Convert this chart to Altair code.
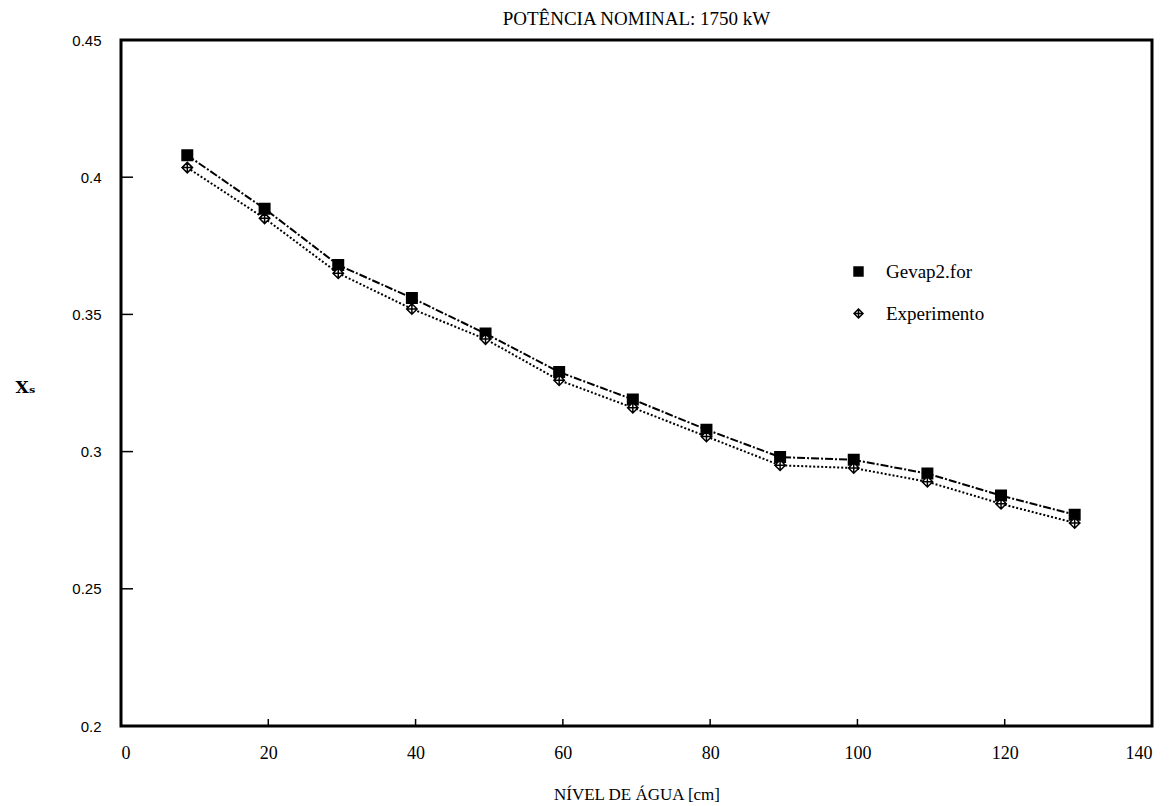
import altair as alt
import pandas as pd

# Data
nivel = [9, 19.5, 29.5, 39.5, 49.5, 59.5, 69.5, 79.5, 89.5, 99.5, 109.5, 119.5, 129.5]
gevap = [0.408, 0.3885, 0.368, 0.356, 0.343, 0.329, 0.319, 0.308, 0.298, 0.297, 0.292, 0.284, 0.277]
experimento = [0.4035, 0.385, 0.365, 0.352, 0.341, 0.326, 0.316, 0.3055, 0.295, 0.294, 0.289, 0.281, 0.274]
series = ["Gevap2.for", "Experimento"]

x_ticks = [0, 20, 40, 60, 80, 100, 120, 140]
y_ticks = [0.2, 0.25, 0.3, 0.35, 0.4, 0.45]
x_inner_ticks = [20, 40, 60, 80, 100, 120]
y_inner_ticks = [0.25, 0.3, 0.35, 0.4]

rows = []
for xv, g, e in zip(nivel, gevap, experimento):
    rows.append({"nivel": xv, "xs": g, "serie": series[0]})
    rows.append({"nivel": xv, "xs": e, "serie": series[1]})
df = pd.DataFrame(rows)

W, H = 1031, 686
SERIF = "Liberation Serif"
SANS = "Liberation Sans"

xscale = alt.Scale(domain=[0, 140], nice=False, zero=False)
yscale = alt.Scale(domain=[0.2, 0.45], nice=False, zero=False)

xaxis = alt.Axis(values=x_ticks, ticks=False, domain=False, grid=False,
                 labelFont=SERIF, labelFontSize=18, labelPadding=18, labelColor="black",
                 title="NÍVEL DE ÁGUA [cm]", titleFont=SERIF, titleFontSize=17,
                 titleFontWeight="normal", titlePadding=24, titleColor="black")
yaxis = alt.Axis(values=y_ticks, format=".2~f", ticks=False, domain=False, grid=False,
                 labelFont=SANS, labelFontSize=15, labelPadding=20, labelColor="black",
                 title="Xₛ", titleFont="DejaVu Serif", titleFontSize=17, titleFontWeight="bold",
                 titleAngle=0, titleX=-96, titleY=347, titleAlign="center",
                 titleBaseline="middle", titleColor="black")

X = alt.X("nivel:Q", scale=xscale, axis=xaxis)
Y = alt.Y("xs:Q", scale=yscale, axis=yaxis)

base = alt.Chart(df)

line_g = base.transform_filter(alt.datum.serie == series[0]).mark_line(
    color="black", strokeWidth=2, strokeDash=[8, 2, 2, 2]).encode(x=X, y=Y)
line_e = base.transform_filter(alt.datum.serie == series[1]).mark_line(
    color="black", strokeWidth=2, strokeDash=[2, 2]).encode(x=X, y=Y)

diamond_cross = "M0,-1L1,0L0,1L-1,0Z M-1,0L1,0 M0,-1L0,1"
leg = alt.Legend(title=None, orient="none", legendX=728, legendY=222,
                 labelFont=SERIF, labelFontSize=19, labelColor="black",
                 rowPadding=22, symbolSize=80, labelOffset=18,
                 symbolStrokeColor="black", symbolStrokeWidth=1.5)
points = base.mark_point(size=110, strokeWidth=1.5, opacity=1, filled=True).encode(
    x=X, y=Y,
    shape=alt.Shape("serie:N", scale=alt.Scale(domain=series, range=["square", diamond_cross]), legend=leg),
    fill=alt.Fill("serie:N", scale=alt.Scale(domain=series, range=["black", "white"]), legend=leg),
    stroke=alt.Stroke("serie:N", scale=alt.Scale(domain=series, range=["black", "black"]), legend=leg),
)

xt = alt.Chart(pd.DataFrame({"nivel": x_inner_ticks})).mark_rule(color="black", strokeWidth=1.5).encode(
    x=X, y=alt.value(H), y2=alt.value(H - 7))
yt = alt.Chart(pd.DataFrame({"xs": y_inner_ticks})).mark_rule(color="black", strokeWidth=1.5).encode(
    y=Y, x=alt.value(0), x2=alt.value(12))

chart = alt.layer(line_g, line_e, points, xt, yt).properties(
    width=W, height=H,
    title=alt.TitleParams("POTÊNCIA NOMINAL: 1750 kW", font=SERIF, fontSize=19,
                          fontWeight="normal", anchor="middle", offset=4, color="black"),
    autosize=alt.AutoSizeParams(type="none"),
    padding={"left": 121, "top": 40, "right": 17, "bottom": 80},
    background="white",
).configure_view(stroke="black", strokeWidth=3).configure_legend(
    labelFont=SERIF, labelFontSize=19, labelColor="black")

chart.save("out.html", embed_options={"renderer": "svg", "actions": False})
